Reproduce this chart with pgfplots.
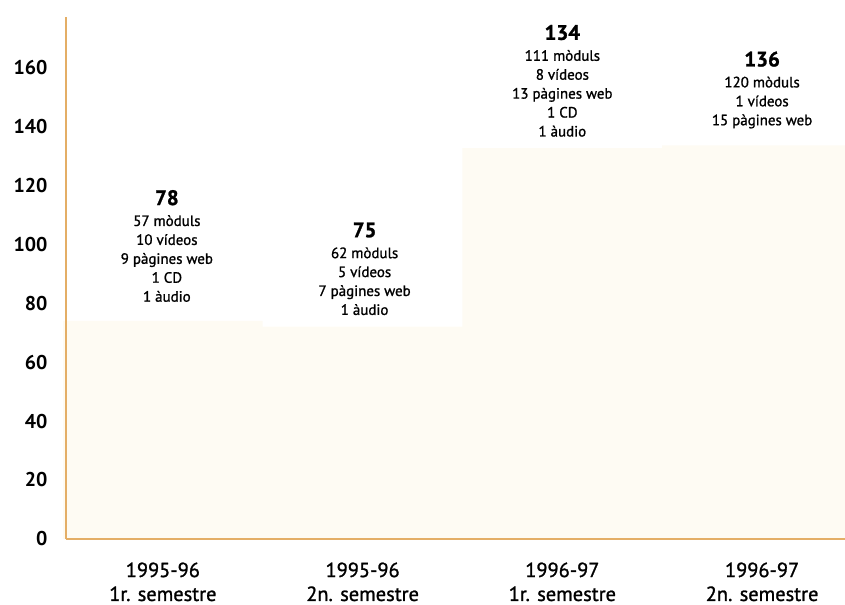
\documentclass[border=0pt]{standalone}
\usepackage{fontspec}
\setmainfont{PT Sans}
\newfontfamily\semib[FakeBold=1.2]{PT Sans}
\usepackage{pgfplots}
\pgfplotsset{compat=1.18}
\definecolor{axisorange}{RGB}{228,174,102}
\definecolor{barcream}{RGB}{254,251,243}
\begin{document}
\begin{tikzpicture}
\path[use as bounding box] (-66bp,-66bp) rectangle (779bp,539bp);
\begin{axis}[
  at={(0,0)}, anchor=south west,
  scale only axis,
  width=779bp, height=522bp,
  xmin=-0.485, xmax=3.415,
  ymin=0, ymax=177,
  axis on top,
  axis x line=bottom, axis y line=left,
  axis line style={-, draw=axisorange, line width=2.6bp},
  major tick length=0pt,
  ytick={0,20,...,160},
  xtick={0,1,2,3},
  xticklabels={{1995-96\\1r. semestre},{1995-96\\2n. semestre},{1996-97\\1r. semestre},{1996-97\\2n. semestre}},
  xticklabel style={align=center, font=\semib\fontsize{20.5}{24}\selectfont, yshift=-20bp},
  yticklabel style={font=\fontsize{20}{20}\selectfont\bfseries, xshift=-15bp},
  /pgf/number format/assume math mode=true,
  clip=false,
]
\addplot[ybar, bar width=1, fill=barcream, draw=none, bar shift=0pt] coordinates {(0,74) (1,72) (2,132.5) (3,133.5)};
\node[align=center, anchor=north, font=\semib\fontsize{15}{19}\selectfont] at (axis cs:0.02,119.5)
  {{\fontsize{21}{22}\selectfont\bfseries 78}\\[2bp] 57 mòduls\\ 10 vídeos\\ 9 pàgines web\\ 1 CD\\ 1 àudio};
\node[align=center, anchor=north, font=\semib\fontsize{15}{19}\selectfont] at (axis cs:1.01,108.5)
  {{\fontsize{21}{22}\selectfont\bfseries 75}\\[2bp] 62 mòduls\\ 5 vídeos\\ 7 pàgines web\\ 1 àudio};
\node[align=center, anchor=north, font=\semib\fontsize{15}{19}\selectfont] at (axis cs:2,175.5)
  {{\fontsize{21}{22}\selectfont\bfseries 134}\\[2bp] 111 mòduls\\ 8 vídeos\\ 13 pàgines web\\ 1 CD\\ 1 àudio};
\node[align=center, anchor=north, font=\semib\fontsize{15}{19}\selectfont] at (axis cs:3,166.5)
  {{\fontsize{21}{22}\selectfont\bfseries 136}\\[2bp] 120 mòduls\\ 1 vídeos\\ 15 pàgines web};
\end{axis}
\end{tikzpicture}
\end{document}
